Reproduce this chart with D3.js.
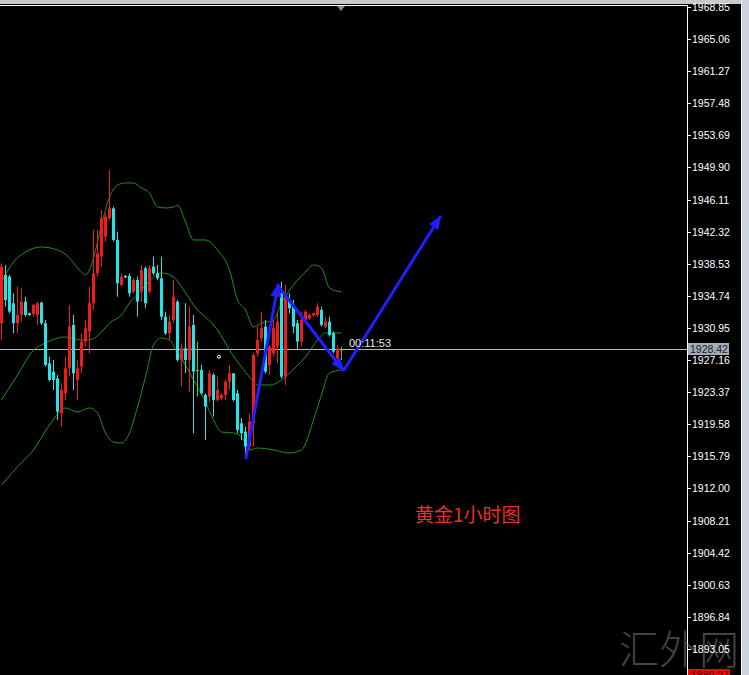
<!DOCTYPE html>
<html>
<head>
<meta charset="utf-8">
<script src="https://cdn.jsdelivr.net/npm/d3@7"></script>
<style>
body { margin: 0; background: #000; overflow: hidden; }
</style>
</head>
<body>
<div id="chart"></div>
<script>
// hourly gold candles (oldest first)
var opens = [1931.51, 1937.21, 1937.02, 1933.87, 1931.51, 1932.49, 1934.06, 1932.69, 1932.61, 1932.49,
  1933.95, 1931.51, 1926.78, 1925.80, 1925.01, 1920.88, 1923.24, 1926.19, 1931.31, 1924.82,
  1926.39, 1929.34, 1930.52, 1933.87, 1937.41, 1939.38, 1941.74, 1943.90, 1945.08, 1941.35,
  1936.03, 1937.09, 1937.09, 1935.24, 1936.62, 1935.24, 1938.00, 1935.24, 1938.20, 1937.41,
  1936.82, 1932.29, 1930.33, 1931.90, 1934.06, 1927.18, 1928.55, 1927.18, 1931.31, 1926.00,
  1926.00, 1923.05, 1922.85, 1925.41, 1922.46, 1922.65, 1923.05, 1924.62, 1925.60, 1923.24,
  1919.70, 1918.72, 1916.95, 1919.70, 1927.96, 1929.74, 1931.11, 1926.59, 1927.96, 1928.75,
  1935.05, 1925.21, 1934.26, 1933.47, 1931.51, 1929.34, 1931.90, 1932.10, 1932.45, 1932.49,
  1933.08, 1931.11, 1931.70, 1930.33, 1927.37, 1928.42];
var highs = [1938.59, 1938.39, 1937.21, 1935.05, 1935.84, 1935.64, 1934.65, 1932.77, 1933.79, 1934.06,
  1934.06, 1931.90, 1927.57, 1927.18, 1925.41, 1924.42, 1927.57, 1933.67, 1932.49, 1927.18,
  1930.33, 1931.90, 1935.84, 1942.53, 1942.53, 1944.89, 1944.49, 1949.61, 1945.28, 1942.33,
  1937.41, 1937.21, 1937.41, 1936.82, 1937.02, 1938.39, 1938.20, 1938.39, 1939.38, 1938.39,
  1939.38, 1932.88, 1932.49, 1936.62, 1934.26, 1929.15, 1933.87, 1933.47, 1932.49, 1929.34,
  1926.59, 1923.24, 1926.00, 1925.60, 1925.21, 1923.24, 1924.82, 1926.59, 1925.60, 1923.64,
  1920.29, 1919.31, 1920.88, 1927.96, 1931.11, 1932.88, 1931.90, 1928.95, 1931.90, 1932.88,
  1936.43, 1936.03, 1935.05, 1934.26, 1931.90, 1932.88, 1933.08, 1932.69, 1932.77, 1933.87,
  1933.47, 1932.29, 1932.29, 1930.52, 1928.95, 1928.75];
var lows = [1929.54, 1933.47, 1932.69, 1930.33, 1930.33, 1931.70, 1932.29, 1932.37, 1932.29, 1931.31,
  1931.31, 1926.39, 1924.62, 1923.64, 1920.09, 1919.31, 1922.46, 1925.21, 1923.64, 1922.46,
  1925.60, 1928.75, 1927.96, 1933.08, 1937.02, 1938.20, 1941.15, 1943.71, 1941.15, 1934.65,
  1935.91, 1936.82, 1934.65, 1935.05, 1932.29, 1934.06, 1933.28, 1935.05, 1937.21, 1936.62,
  1931.90, 1930.13, 1929.54, 1931.51, 1926.98, 1924.03, 1925.60, 1923.44, 1918.52, 1922.85,
  1923.05, 1917.73, 1922.26, 1920.49, 1922.26, 1922.46, 1922.46, 1923.64, 1922.26, 1918.52,
  1917.73, 1915.57, 1916.55, 1916.95, 1927.57, 1929.34, 1925.60, 1925.41, 1927.57, 1926.78,
  1925.01, 1924.23, 1932.69, 1930.33, 1928.36, 1928.75, 1931.51, 1931.90, 1932.29, 1932.29,
  1931.11, 1930.92, 1929.93, 1927.96, 1927.18, 1927.18];
var closes = [1938.20, 1934.26, 1932.88, 1931.51, 1932.49, 1934.06, 1932.49, 1932.49, 1933.67, 1933.87,
  1931.51, 1926.59, 1924.82, 1924.82, 1921.08, 1923.64, 1926.19, 1931.11, 1925.60, 1926.19,
  1929.34, 1930.92, 1933.87, 1937.41, 1939.77, 1943.90, 1944.10, 1945.08, 1941.35, 1936.23,
  1937.02, 1936.94, 1935.05, 1936.62, 1934.06, 1937.80, 1933.87, 1938.00, 1937.41, 1936.82,
  1932.29, 1930.33, 1931.70, 1934.65, 1927.18, 1928.55, 1927.18, 1931.11, 1925.80, 1926.00,
  1923.24, 1921.67, 1925.60, 1922.46, 1923.64, 1923.05, 1924.62, 1925.60, 1922.46, 1918.91,
  1918.52, 1916.95, 1919.90, 1927.77, 1929.54, 1930.92, 1925.80, 1928.75, 1930.92, 1931.70,
  1925.21, 1934.65, 1933.28, 1931.11, 1929.34, 1931.90, 1932.88, 1932.49, 1932.69, 1933.47,
  1931.31, 1931.70, 1930.13, 1928.16, 1928.55, 1928.42];

// bollinger bands, [bar index, price]
var upperBand = [[0, 1936.38], [3, 1938.74], [6, 1939.92], [10, 1940.51], [14, 1940.16], [17, 1939.22],
  [19, 1938.04], [21, 1937.21], [22, 1937.80], [23, 1939.22], [25, 1943.11], [27, 1946.42], [29, 1947.83],
  [31, 1948.07], [33, 1948.07], [35, 1947.48], [37, 1946.89], [39, 1945.24], [41, 1945.12], [43, 1945.24],
  [44, 1945.47], [46, 1943.47], [48, 1941.34], [51, 1941.34], [54, 1940.16], [57, 1937.80], [59, 1934.26],
  [61, 1933.08], [63, 1931.07], [65, 1931.54], [68, 1931.90], [70, 1933.90], [73, 1936.03], [76, 1937.56],
  [78, 1938.39], [80, 1938.04], [82, 1935.67], [85, 1935.20]];
var middleBand = [[0, 1922.45], [4, 1925.40], [8, 1928.35], [11, 1929.18], [16, 1929.89], [20, 1929.53],
  [22, 1929.53], [25, 1930.48], [27, 1931.54], [30, 1932.49], [32, 1933.90], [35, 1935.44], [38, 1936.97],
  [40, 1937.45], [43, 1936.97], [46, 1935.08], [49, 1933.08], [51, 1932.25], [54, 1930.72], [57, 1928.35],
  [60, 1926.35], [62, 1925.17], [64, 1924.22], [67, 1924.22], [70, 1924.81], [72, 1925.64], [76, 1927.53],
  [79, 1929.53], [81, 1930.36], [85, 1930.36]];
var lowerBand = [[0, 1912.42], [4, 1914.54], [8, 1916.55], [12, 1919.50], [16, 1921.51], [19, 1921.03],
  [22, 1921.51], [24, 1920.92], [26, 1918.55], [28, 1917.49], [30, 1917.37], [32, 1918.55], [34, 1921.62],
  [36, 1925.17], [38, 1928.94], [40, 1929.77], [42, 1929.53], [44, 1928.00], [46, 1926.58], [48, 1924.81],
  [51, 1922.21], [53, 1920.09], [55, 1918.67], [58, 1918.55], [60, 1918.08], [62, 1916.55], [64, 1916.78],
  [68, 1916.55], [72, 1916.19], [75, 1916.55], [78, 1920.09], [80, 1923.04], [82, 1925.64], [85, 1925.99]];

// hand drawn arrows: [start, end] as [bar index, price]
var arrows = [
  [[61.25, 1915.60], [69.25, 1936.03]],
  [[69.5, 1935.79], [85.5, 1925.99]],
  [[85.75, 1925.99], [109.75, 1944.06]]
];

var priceTicks = ["1968.85", "1965.06", "1961.27", "1957.48", "1953.69", "1949.90", "1946.11",
  "1942.32", "1938.53", "1934.74", "1930.95", "1927.16", "1923.37", "1919.58", "1915.79",
  "1912.00", "1908.21", "1904.42", "1900.63", "1896.84", "1893.05"];
var currentPrice = 1928.42;
var lowLabel = "1889.27";
var timerText = "00:11:53";
var titleText = "黄金1小时图";
var watermark = "汇外网";

var width = 749, height = 675;
var plotRight = 687;
var scaleFont = "Liberation Sans, Arial, sans-serif";

var svg = d3.select("#chart")
  .append("svg")
  .attr("width", width)
  .attr("height", height)
  .style("display", "block");

svg.append("rect").attr("width", width).attr("height", height).attr("fill", "#000");

var x = d3.scaleLinear().domain([0, 85]).range([1, 341]);
var y = d3.scaleLinear().domain([1893.05, 1968.85]).range([649, 7]);

svg.append("defs").append("clipPath").attr("id", "plot")
  .append("rect").attr("x", 0).attr("y", 6).attr("width", plotRight).attr("height", height);

var plot = svg.append("g").attr("clip-path", "url(#plot)");

// current price line
plot.append("line")
  .attr("x1", 0).attr("x2", plotRight)
  .attr("y1", Math.round(y(currentPrice)) + 0.5).attr("y2", Math.round(y(currentPrice)) + 0.5)
  .attr("stroke", "#b8bcc4").attr("stroke-width", 1);

// bands
var bandLine = d3.line()
  .x(function(d) { return x(d[0]) + 0.5; })
  .y(function(d) { return y(d[1]); })
  .curve(d3.curveMonotoneX);

[upperBand, middleBand, lowerBand].forEach(function(b) {
  plot.append("path")
    .attr("d", bandLine(b))
    .attr("fill", "none")
    .attr("stroke", "#1f941f")
    .attr("stroke-width", 1);
});

// candles
var candles = opens.map(function(o, i) {
  return {i: i, o: o, h: highs[i], l: lows[i], c: closes[i]};
});
function candleColor(d) {
  if (d.c > d.o) return "#f01c1c";
  if (d.c < d.o) return "#27e3e6";
  return "#3cd23c";
}

var cg = plot.append("g").selectAll("g")
  .data(candles)
  .enter()
  .append("g");

cg.append("line")
  .attr("x1", function(d) { return Math.round(x(d.i)) + 0.5; })
  .attr("x2", function(d) { return Math.round(x(d.i)) + 0.5; })
  .attr("y1", function(d) { return y(d.h); })
  .attr("y2", function(d) { return y(d.l); })
  .attr("stroke", candleColor)
  .attr("stroke-width", 1);

cg.append("rect")
  .attr("x", function(d) { return Math.round(x(d.i)) - 1; })
  .attr("width", 3)
  .attr("y", function(d) { return Math.min(y(d.o), y(d.c)); })
  .attr("height", function(d) { return Math.max(1, Math.abs(y(d.o) - y(d.c))); })
  .attr("fill", candleColor);

// small white marker
plot.append("circle")
  .attr("cx", x(54.5)).attr("cy", y(1927.55))
  .attr("r", 1.5).attr("fill", "none").attr("stroke", "#fff");

// arrows
svg.append("defs").append("marker")
  .attr("id", "head")
  .attr("markerUnits", "userSpaceOnUse")
  .attr("viewBox", "0 -6 14 12")
  .attr("refX", 12).attr("refY", 0)
  .attr("markerWidth", 14).attr("markerHeight", 12)
  .attr("orient", "auto")
  .append("path")
  .attr("d", "M0,-5.5L14,0L0,5.5Z")
  .attr("fill", "#1f1fff");

plot.selectAll(".arrow")
  .data(arrows)
  .enter()
  .append("line")
  .attr("class", "arrow")
  .attr("x1", function(d) { return x(d[0][0]); })
  .attr("y1", function(d) { return y(d[0][1]); })
  .attr("x2", function(d) { return x(d[1][0]); })
  .attr("y2", function(d) { return y(d[1][1]); })
  .attr("stroke", "#1f1fff")
  .attr("stroke-width", 3)
  .attr("stroke-linecap", "round")
  .attr("marker-end", "url(#head)");

// timer next to last bar
plot.append("text")
  .attr("x", 349).attr("y", y(currentPrice) - 2)
  .attr("fill", "#e8e8e8")
  .style("font-family", scaleFont)
  .style("font-size", "11px")
  .text(timerText);

// title
svg.append("text")
  .attr("x", 415).attr("y", 522)
  .attr("fill", "#e8302c")
  .style("font-family", "Noto Sans CJK SC, sans-serif")
  .style("font-size", "19px")
  .text(titleText);

// window frame
svg.append("rect").attr("x", 0).attr("y", 0).attr("width", width).attr("height", 4).attr("fill", "#c9c9c9");
svg.append("line").attr("x1", 0).attr("x2", plotRight + 0.5).attr("y1", 5.5).attr("y2", 5.5)
  .attr("stroke", "#fff");
svg.append("line").attr("x1", plotRight + 0.5).attr("x2", plotRight + 0.5).attr("y1", 5).attr("y2", height)
  .attr("stroke", "#fff");
svg.append("path")
  .attr("d", "M337,6L345,6L341,11Z")
  .attr("fill", "#8a8a8a");

// watermark (sits behind the scale text)
svg.append("text")
  .attr("x", 619).attr("y", 664)
  .attr("fill", "#8a8a8a")
  .attr("fill-opacity", 0.5)
  .style("font-family", "Noto Sans CJK SC, sans-serif")
  .style("font-weight", "300")
  .style("font-size", "40px")
  .text(watermark);

// price scale
var axisG = svg.append("g");
axisG.selectAll(".tick")
  .data(priceTicks)
  .enter()
  .append("line")
  .attr("x1", plotRight).attr("x2", plotRight + 4)
  .attr("y1", function(d) { return Math.round(y(+d)) + 0.5; })
  .attr("y2", function(d) { return Math.round(y(+d)) + 0.5; })
  .attr("stroke", "#fff");

axisG.selectAll(".lbl")
  .data(priceTicks)
  .enter()
  .append("text")
  .attr("x", 692)
  .attr("y", function(d) { return Math.round(y(+d)) + 4; })
  .attr("fill", "#fff")
  .style("font-family", scaleFont)
  .style("font-size", "10.5px")
  .text(function(d) { return d; });

// current price tag
svg.append("rect")
  .attr("x", 688).attr("y", Math.round(y(currentPrice)) - 6)
  .attr("width", 41).attr("height", 12)
  .attr("fill", "#a4acb6");
svg.append("text")
  .attr("x", 690).attr("y", Math.round(y(currentPrice)) + 4)
  .attr("fill", "#1a1a1a")
  .style("font-family", scaleFont)
  .style("font-size", "10.5px")
  .text(currentPrice.toFixed(2));

// low tag at the bottom edge
svg.append("rect")
  .attr("x", 688).attr("y", 669).attr("width", 42).attr("height", 12)
  .attr("fill", "#e01010");
svg.append("text")
  .attr("x", 691).attr("y", 679)
  .attr("fill", "#5a0000")
  .style("font-family", scaleFont)
  .style("font-size", "10.5px")
  .text(lowLabel);

// right window edge
svg.append("rect").attr("x", 741).attr("y", 0).attr("width", 8).attr("height", height).attr("fill", "#cfd5de");
svg.append("line").attr("x1", 741.5).attr("x2", 741.5).attr("y1", 0).attr("y2", height).attr("stroke", "#f4f6f8");
</script>
</body>
</html>
